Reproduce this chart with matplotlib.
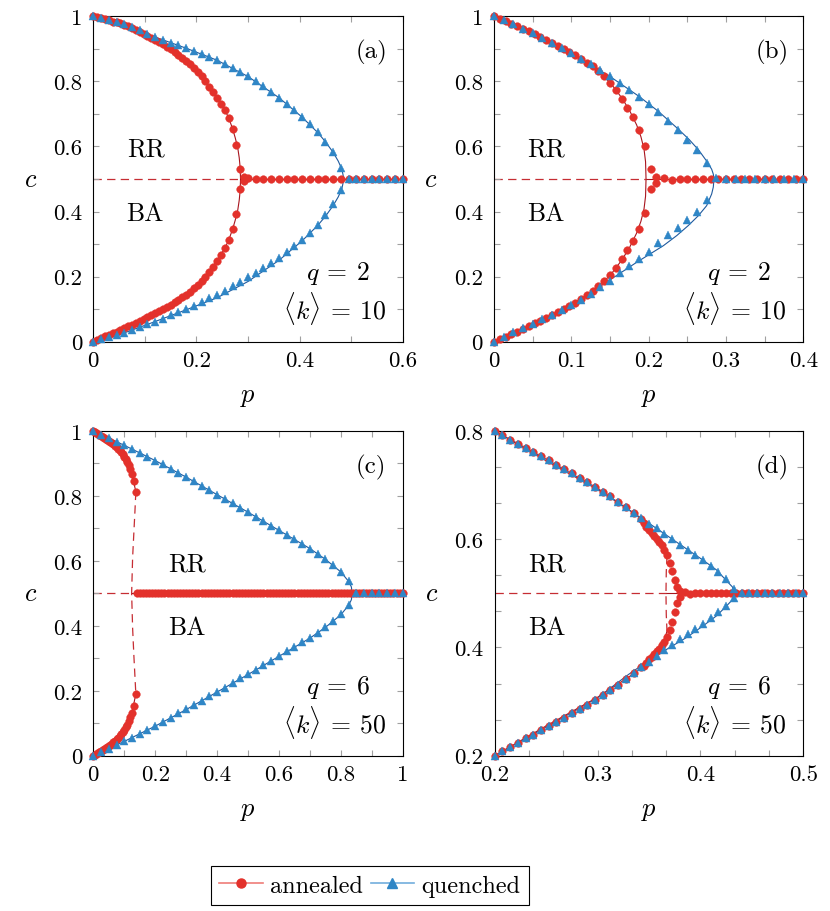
import matplotlib
matplotlib.use("Agg")
import matplotlib.pyplot as plt
from matplotlib.lines import Line2D
from matplotlib.ticker import MultipleLocator, FuncFormatter

plt.rcParams["font.family"] = ["cmr10", "DejaVu Serif"]
plt.rcParams["mathtext.fontset"] = "cm"
plt.rcParams["axes.formatter.use_mathtext"] = True
plt.rcParams["lines.scale_dashes"] = False

RED = "#E3312B"
BLUE = "#2F86C6"
RED_LINE = "#A8151E"
RED_DASH = "#C62D33"
BLUE_LINE = "#1F5A9E"
RED_LEG = "#EF7D78"
BLUE_LEG = "#72AEDD"

# ---------------- panel (a): q=2, <k>=10 ----------------
a_ann_p = [0, 0.0075, 0.015, 0.0225, 0.03, 0.0375, 0.045, 0.0525, 0.06, 0.0675,
           0.075, 0.0825, 0.09, 0.0975, 0.105, 0.1125, 0.12, 0.1275, 0.135, 0.1425,
           0.15, 0.1575, 0.165, 0.1725, 0.18, 0.1875, 0.195, 0.2025, 0.21, 0.2175,
           0.225, 0.2325, 0.24, 0.2475, 0.255, 0.2625, 0.27, 0.2775, 0.285, 0.2925]
a_ann_up = [1.000, 0.997, 0.994, 0.991, 0.988, 0.984, 0.981, 0.978, 0.974, 0.969,
            0.963, 0.957, 0.951, 0.945, 0.939, 0.933, 0.927, 0.921, 0.914, 0.907,
            0.899, 0.891, 0.882, 0.873, 0.863, 0.853, 0.842, 0.830, 0.817, 0.801,
            0.784, 0.766, 0.749, 0.732, 0.713, 0.688, 0.655, 0.605, 0.530, 0.506]
a_ann_lo = [0.000, 0.005, 0.010, 0.016, 0.021, 0.026, 0.031, 0.036, 0.041, 0.047,
            0.052, 0.058, 0.064, 0.070, 0.076, 0.082, 0.088, 0.094, 0.100, 0.107,
            0.114, 0.121, 0.129, 0.137, 0.145, 0.154, 0.164, 0.175, 0.187, 0.200,
            0.214, 0.230, 0.247, 0.266, 0.287, 0.312, 0.346, 0.392, 0.470, 0.494]
a_ann_mid_p = [0.3, 0.315, 0.33, 0.345, 0.36, 0.375, 0.39, 0.405, 0.42, 0.435, 0.45,
               0.465, 0.48, 0.495, 0.51, 0.525, 0.54, 0.555, 0.57, 0.585, 0.6]
a_ann_mid_c = [0.502, 0.500, 0.501, 0.500, 0.500, 0.500, 0.500, 0.500, 0.500, 0.500, 0.500,
               0.500, 0.500, 0.500, 0.500, 0.500, 0.500, 0.500, 0.500, 0.500, 0.500]

a_que_p = [0, 0.015, 0.03, 0.045, 0.06, 0.075, 0.09, 0.105, 0.12, 0.135, 0.15,
           0.165, 0.18, 0.195, 0.21, 0.225, 0.24, 0.255, 0.27, 0.285, 0.3, 0.315,
           0.33, 0.345, 0.36, 0.375, 0.39, 0.405, 0.42, 0.435, 0.45, 0.465, 0.48]
a_que_up = [1.000, 0.994, 0.988, 0.982, 0.976, 0.968, 0.958, 0.947, 0.936, 0.927, 0.919,
            0.911, 0.902, 0.893, 0.884, 0.875, 0.865, 0.854, 0.842, 0.829, 0.815, 0.800,
            0.785, 0.768, 0.750, 0.731, 0.711, 0.690, 0.668, 0.643, 0.615, 0.582, 0.535]
a_que_lo = [0.000, 0.007, 0.014, 0.021, 0.028, 0.036, 0.044, 0.053, 0.062, 0.071, 0.081,
            0.091, 0.101, 0.111, 0.122, 0.133, 0.145, 0.157, 0.170, 0.184, 0.198, 0.212,
            0.227, 0.242, 0.258, 0.275, 0.294, 0.313, 0.335, 0.360, 0.390, 0.423, 0.465]
a_que_mid_p = [0.495, 0.51, 0.525, 0.54, 0.555, 0.57, 0.585, 0.6]
a_que_mid_c = [0.500, 0.500, 0.500, 0.500, 0.500, 0.500, 0.500, 0.500]

a_th_ann_p = [0, 0.06, 0.12, 0.18, 0.21, 0.24, 0.255, 0.2625, 0.27, 0.275, 0.28, 0.283,
              0.2848, 0.2855, 0.2848, 0.283, 0.28, 0.275, 0.27, 0.2625, 0.255, 0.24,
              0.21, 0.18, 0.12, 0.06, 0]
a_th_ann_c = [1.0, 0.974, 0.927, 0.863, 0.817, 0.749, 0.713, 0.688, 0.655, 0.628, 0.597, 0.565,
              0.535, 0.5, 0.465, 0.435, 0.403, 0.372, 0.345, 0.312, 0.287, 0.249,
              0.187, 0.145, 0.088, 0.041, 0.0]
a_th_ann_sym_p = [0.2855, 0.6]
a_th_ann_sym_c = [0.5, 0.5]
a_th_ann_uns_p = [0, 0.2855]
a_th_ann_uns_c = [0.5, 0.5]
a_th_que_p = [0, 0.06, 0.12, 0.18, 0.24, 0.3, 0.36, 0.405, 0.435, 0.45, 0.465, 0.475, 0.482,
              0.486, 0.482, 0.475, 0.465, 0.45, 0.435, 0.405, 0.36, 0.3, 0.24, 0.18, 0.12,
              0.06, 0]
a_th_que_c = [1.0, 0.976, 0.936, 0.902, 0.865, 0.815, 0.75, 0.69, 0.643, 0.615, 0.582, 0.555, 0.53,
              0.5, 0.47, 0.445, 0.418, 0.385, 0.357, 0.31, 0.25, 0.185, 0.135, 0.098, 0.062,
              0.027, 0.0]
a_th_que_sym_p = [0.486, 0.6]
a_th_que_sym_c = [0.5, 0.5]

# ---------------- panel (b): q=2, <k>=10 ----------------
b_ann_p = [0, 0.0075, 0.015, 0.0225, 0.03, 0.0375, 0.045, 0.0525, 0.06, 0.0675,
           0.075, 0.0825, 0.09, 0.0975, 0.105, 0.1125, 0.12, 0.1275, 0.135, 0.1425,
           0.15, 0.1575, 0.165, 0.1725, 0.18, 0.1875, 0.195, 0.2025, 0.21]
b_ann_up = [1.000, 0.993, 0.985, 0.977, 0.970, 0.962, 0.954, 0.945, 0.937, 0.928,
            0.919, 0.909, 0.900, 0.890, 0.880, 0.869, 0.858, 0.847, 0.833, 0.815,
            0.795, 0.772, 0.745, 0.718, 0.690, 0.652, 0.600, 0.530, 0.505]
b_ann_lo = [0.000, 0.007, 0.015, 0.023, 0.031, 0.039, 0.047, 0.056, 0.064, 0.073,
            0.082, 0.091, 0.100, 0.110, 0.120, 0.131, 0.142, 0.155, 0.170, 0.187,
            0.206, 0.228, 0.255, 0.282, 0.310, 0.345, 0.395, 0.470, 0.487]
b_ann_mid_p = [0.22, 0.23, 0.24, 0.25, 0.26, 0.27, 0.28, 0.29, 0.3, 0.31,
               0.32, 0.33, 0.34, 0.35, 0.36, 0.37, 0.38, 0.39, 0.4]
b_ann_mid_c = [0.502, 0.498, 0.500, 0.501, 0.500, 0.499, 0.500, 0.500, 0.500, 0.500,
               0.500, 0.500, 0.500, 0.500, 0.500, 0.500, 0.500, 0.500, 0.500]

b_que_p = [0, 0.0125, 0.025, 0.0375, 0.05, 0.0625, 0.075, 0.0875, 0.1, 0.1125, 0.125,
           0.1375, 0.15, 0.1625, 0.175, 0.1875, 0.2, 0.2125, 0.225, 0.2375, 0.25, 0.2625, 0.275]
b_que_up = [1.000, 0.988, 0.975, 0.962, 0.948, 0.934, 0.919, 0.903, 0.887, 0.870, 0.853,
            0.835, 0.815, 0.795, 0.774, 0.752, 0.729, 0.705, 0.679, 0.651, 0.621, 0.590, 0.548]
b_que_lo = [0.000, 0.014, 0.029, 0.042, 0.055, 0.069, 0.083, 0.098, 0.113, 0.129, 0.146,
            0.167, 0.188, 0.210, 0.233, 0.255, 0.277, 0.302, 0.327, 0.350, 0.373, 0.400, 0.434]
b_que_mid_p = [0.2875, 0.3, 0.3125, 0.325, 0.3375, 0.35, 0.3625, 0.375, 0.3875, 0.4]
b_que_mid_c = [0.502, 0.500, 0.500, 0.500, 0.500, 0.500, 0.500, 0.500, 0.500, 0.500]

b_th_ann_p = [0, 0.03, 0.06, 0.09, 0.12, 0.15, 0.165, 0.175, 0.1845, 0.19, 0.194, 0.196,
              0.1966, 0.196, 0.194, 0.19, 0.1845, 0.175, 0.165, 0.15, 0.12, 0.09, 0.06, 0.03, 0]
b_th_ann_c = [1.0, 0.970, 0.937, 0.900, 0.858, 0.797, 0.750, 0.712, 0.666, 0.630, 0.592, 0.553,
              0.5, 0.447, 0.408, 0.370, 0.334, 0.288, 0.250, 0.203, 0.142, 0.100, 0.064, 0.031, 0.0]
b_th_ann_sym_p = [0.1966, 0.4]
b_th_ann_sym_c = [0.5, 0.5]
b_th_ann_uns_p = [0, 0.1966]
b_th_ann_uns_c = [0.5, 0.5]
b_th_que_p = [0, 0.05, 0.1, 0.15, 0.1875, 0.2125, 0.2375, 0.2525, 0.265, 0.275, 0.2815, 0.2836,
              0.2845, 0.2836, 0.2815, 0.275, 0.2642, 0.2513, 0.2363, 0.219, 0.1845, 0.15, 0.1,
              0.05, 0]
b_th_que_c = [1.0, 0.948, 0.887, 0.815, 0.754, 0.708, 0.655, 0.621, 0.588, 0.555, 0.530, 0.515,
              0.5, 0.475, 0.454, 0.418, 0.387, 0.357, 0.326, 0.295, 0.244, 0.19, 0.113,
              0.052, 0.0]
b_th_que_sym_p = [0.2845, 0.4]
b_th_que_sym_c = [0.5, 0.5]

# ---------------- panel (c): q=6, <k>=50 ----------------
c_ann_p = [0, 0.005, 0.01, 0.015, 0.02, 0.025, 0.03, 0.035, 0.04, 0.045, 0.05, 0.055,
           0.06, 0.065, 0.07, 0.075, 0.08, 0.085, 0.09, 0.095, 0.1, 0.105, 0.11, 0.115,
           0.12, 0.125, 0.13, 0.1375]
c_ann_up = [1.000, 0.997, 0.994, 0.991, 0.988, 0.985, 0.981, 0.978, 0.975, 0.972, 0.969, 0.966,
            0.963, 0.959, 0.955, 0.950, 0.945, 0.940, 0.934, 0.928, 0.921, 0.913, 0.904, 0.894,
            0.882, 0.867, 0.847, 0.813]
c_ann_lo = [0.000, 0.003, 0.006, 0.009, 0.012, 0.015, 0.019, 0.022, 0.025, 0.028, 0.031, 0.034,
            0.037, 0.041, 0.045, 0.050, 0.055, 0.060, 0.066, 0.072, 0.079, 0.087, 0.096, 0.106,
            0.118, 0.133, 0.153, 0.190]
c_ann_mid_p = [0.14, 0.15, 0.16, 0.17, 0.18, 0.19, 0.20, 0.21, 0.22, 0.23,
               0.24, 0.25, 0.26, 0.27, 0.28, 0.29, 0.30, 0.31, 0.32, 0.33,
               0.34, 0.35, 0.36, 0.37, 0.38, 0.39, 0.40, 0.41, 0.42, 0.43,
               0.44, 0.45, 0.46, 0.47, 0.48, 0.49, 0.50, 0.51, 0.52, 0.53,
               0.54, 0.55, 0.56, 0.57, 0.58, 0.59, 0.60, 0.61, 0.62, 0.63,
               0.64, 0.65, 0.66, 0.67, 0.68, 0.69, 0.70, 0.71, 0.72, 0.73,
               0.74, 0.75, 0.76, 0.77, 0.78, 0.79, 0.80, 0.81, 0.82, 0.83,
               0.84, 0.85, 0.86, 0.87, 0.88, 0.89, 0.90, 0.91, 0.92, 0.93,
               0.94, 0.95, 0.96, 0.97, 0.98, 0.99, 1.00]
c_ann_mid_c = [0.500, 0.500, 0.500, 0.500, 0.500, 0.500, 0.500, 0.500, 0.500, 0.500,
               0.500, 0.500, 0.500, 0.500, 0.500, 0.500, 0.500, 0.500, 0.500, 0.500,
               0.500, 0.500, 0.500, 0.500, 0.500, 0.500, 0.500, 0.500, 0.500, 0.500,
               0.500, 0.500, 0.500, 0.500, 0.500, 0.500, 0.500, 0.500, 0.500, 0.500,
               0.500, 0.500, 0.500, 0.500, 0.500, 0.500, 0.500, 0.500, 0.500, 0.500,
               0.500, 0.500, 0.500, 0.500, 0.500, 0.500, 0.500, 0.500, 0.500, 0.500,
               0.500, 0.500, 0.500, 0.500, 0.500, 0.500, 0.500, 0.500, 0.500, 0.500,
               0.500, 0.500, 0.500, 0.500, 0.500, 0.500, 0.500, 0.500, 0.500, 0.500,
               0.500, 0.500, 0.500, 0.500, 0.500, 0.500, 0.500]

c_que_p = [0, 0.025, 0.05, 0.075, 0.1, 0.125, 0.15, 0.175, 0.2, 0.225, 0.25, 0.275,
           0.3, 0.325, 0.35, 0.375, 0.4, 0.425, 0.45, 0.475, 0.5, 0.525, 0.55, 0.575,
           0.6, 0.625, 0.65, 0.675, 0.7, 0.725, 0.75, 0.775, 0.8, 0.825]
c_que_up = [1.000, 0.989, 0.978, 0.967, 0.956, 0.945, 0.933, 0.921, 0.909, 0.897, 0.884, 0.871,
            0.858, 0.845, 0.831, 0.818, 0.804, 0.791, 0.777, 0.763, 0.750, 0.736, 0.722, 0.708,
            0.694, 0.680, 0.666, 0.652, 0.638, 0.622, 0.605, 0.587, 0.566, 0.537]
c_que_lo = [0.000, 0.011, 0.022, 0.034, 0.045, 0.056, 0.068, 0.080, 0.092, 0.104, 0.117, 0.130,
            0.143, 0.156, 0.170, 0.183, 0.197, 0.210, 0.224, 0.238, 0.251, 0.265, 0.279, 0.293,
            0.307, 0.321, 0.335, 0.349, 0.363, 0.379, 0.396, 0.414, 0.435, 0.464]
c_que_mid_p = [0.85, 0.875, 0.9, 0.925, 0.95, 0.975, 1.0]
c_que_mid_c = [0.500, 0.500, 0.500, 0.500, 0.500, 0.500, 0.500]

c_th_ann_up_p = [0, 0.03, 0.065, 0.085, 0.1, 0.115, 0.125, 0.1375]
c_th_ann_up_c = [1.0, 0.981, 0.959, 0.94, 0.921, 0.894, 0.867, 0.813]
c_th_ann_lo_p = [0.1375, 0.125, 0.115, 0.1, 0.085, 0.065, 0.03, 0]
c_th_ann_lo_c = [0.19, 0.133, 0.106, 0.079, 0.06, 0.041, 0.019, 0.0]
c_th_ann_unsb_p = [0.1375, 0.1347, 0.1314, 0.1271, 0.1239, 0.1271, 0.1314, 0.1347, 0.1375]
c_th_ann_unsb_c = [0.813, 0.755, 0.693, 0.611, 0.5, 0.392, 0.303, 0.242, 0.19]
c_th_ann_sym_p = [0.1239, 1.0]
c_th_ann_sym_c = [0.5, 0.5]
c_th_ann_uns_p = [0, 0.1239]
c_th_ann_uns_c = [0.5, 0.5]
c_th_que_p = [0, 0.1, 0.2, 0.3, 0.4, 0.5, 0.6, 0.7, 0.75, 0.8, 0.825, 0.834, 0.837,
              0.834, 0.825, 0.8, 0.75, 0.7, 0.6, 0.5, 0.4, 0.3, 0.2, 0.1, 0]
c_th_que_c = [1.0, 0.956, 0.909, 0.858, 0.804, 0.75, 0.694, 0.638, 0.605, 0.566, 0.537, 0.52, 0.5,
              0.48, 0.463, 0.434, 0.395, 0.362, 0.306, 0.25, 0.196, 0.142, 0.091, 0.044, 0.0]
c_th_que_sym_p = [0.837, 1.0]
c_th_que_sym_c = [0.5, 0.5]

# ---------------- panel (d): q=6, <k>=50 (zoom) ----------------
d_ann_p = [0.2, 0.2075, 0.215, 0.2225, 0.23, 0.2375, 0.245, 0.2525, 0.26, 0.2675,
           0.275, 0.2825, 0.29, 0.2975, 0.305, 0.3125, 0.32, 0.3275, 0.335, 0.3425,
           0.345, 0.3475, 0.35, 0.3525, 0.355, 0.3575, 0.36, 0.3625, 0.365, 0.3675,
           0.37, 0.3725, 0.375, 0.3775, 0.38]
d_ann_up = [0.800, 0.792, 0.784, 0.776, 0.768, 0.761, 0.753, 0.746, 0.738, 0.730,
            0.722, 0.714, 0.706, 0.697, 0.688, 0.679, 0.669, 0.659, 0.649, 0.638,
            0.630, 0.623, 0.617, 0.612, 0.606, 0.600, 0.595, 0.589, 0.581, 0.570,
            0.556, 0.541, 0.525, 0.511, 0.504]
d_ann_lo = [0.200, 0.208, 0.216, 0.224, 0.232, 0.239, 0.247, 0.254, 0.262, 0.270,
            0.278, 0.286, 0.294, 0.303, 0.312, 0.321, 0.331, 0.341, 0.352, 0.363,
            0.366, 0.372, 0.378, 0.383, 0.388, 0.393, 0.398, 0.404, 0.411, 0.420,
            0.433, 0.447, 0.465, 0.483, 0.494]
d_ann_mid_p = [0.385, 0.39, 0.395, 0.4, 0.405, 0.41, 0.415, 0.42, 0.425, 0.43, 0.435, 0.44,
               0.445, 0.45, 0.455, 0.46, 0.465, 0.47, 0.475, 0.48, 0.485, 0.49, 0.495, 0.5]
d_ann_mid_c = [0.502, 0.499, 0.501, 0.500, 0.500, 0.500, 0.500, 0.500, 0.500, 0.500, 0.500, 0.500,
               0.500, 0.500, 0.500, 0.500, 0.500, 0.500, 0.500, 0.500, 0.500, 0.500, 0.500, 0.500]

d_que_p = [0.2, 0.2075, 0.215, 0.2225, 0.23, 0.2375, 0.245, 0.2525, 0.26, 0.2675,
           0.275, 0.2825, 0.29, 0.2975, 0.305, 0.3125, 0.32, 0.3275, 0.335, 0.3425,
           0.35, 0.3575, 0.365, 0.3725, 0.38, 0.3875, 0.395, 0.4025, 0.41, 0.4175,
           0.425, 0.4325]
d_que_up = [0.800, 0.792, 0.784, 0.776, 0.768, 0.761, 0.753, 0.746, 0.738, 0.730,
            0.722, 0.714, 0.706, 0.697, 0.688, 0.679, 0.669, 0.659, 0.649, 0.639,
            0.629, 0.620, 0.610, 0.600, 0.590, 0.580, 0.571, 0.561, 0.550, 0.539,
            0.526, 0.508]
d_que_lo = [0.200, 0.208, 0.216, 0.224, 0.232, 0.239, 0.247, 0.254, 0.262, 0.270,
            0.278, 0.286, 0.294, 0.303, 0.312, 0.321, 0.331, 0.341, 0.352, 0.363,
            0.374, 0.385, 0.395, 0.405, 0.415, 0.425, 0.434, 0.444, 0.454, 0.465,
            0.477, 0.492]
d_que_mid_p = [0.44, 0.4475, 0.455, 0.4625, 0.47, 0.4775, 0.485, 0.4925, 0.5]
d_que_mid_c = [0.500, 0.500, 0.500, 0.500, 0.500, 0.500, 0.500, 0.500, 0.500]

d_th_ann_up_p = [0.2, 0.25, 0.3, 0.33, 0.3425, 0.35, 0.36, 0.365, 0.3675]
d_th_ann_up_c = [0.8, 0.745, 0.692, 0.655, 0.638, 0.619, 0.598, 0.585, 0.570]
d_th_ann_lo_p = [0.3675, 0.365, 0.36, 0.35, 0.3425, 0.33, 0.3, 0.25, 0.2]
d_th_ann_lo_c = [0.43, 0.415, 0.402, 0.381, 0.362, 0.345, 0.308, 0.255, 0.2]
d_th_ann_unsb_p = [0.3675, 0.3668, 0.3665, 0.3668, 0.3675]
d_th_ann_unsb_c = [0.570, 0.54, 0.5, 0.46, 0.43]
d_th_ann_sym_p = [0.3665, 0.5]
d_th_ann_sym_c = [0.5, 0.5]
d_th_ann_uns_p = [0.2, 0.3665]
d_th_ann_uns_c = [0.5, 0.5]
d_th_que_p = [0.2, 0.25, 0.3, 0.33, 0.3542, 0.3704, 0.3866, 0.4028, 0.4158, 0.4255, 0.431,
              0.4336, 0.431, 0.4255, 0.4158, 0.4028, 0.3866, 0.3704, 0.3542, 0.33, 0.3,
              0.25, 0.2]
d_th_que_c = [0.8, 0.748, 0.694, 0.655, 0.624, 0.603, 0.582, 0.561, 0.543, 0.523, 0.512,
              0.5, 0.488, 0.477, 0.4587, 0.4402, 0.4186, 0.4002, 0.3817, 0.35, 0.307,
              0.253, 0.2]
d_th_que_sym_p = [0.4336, 0.5]
d_th_que_sym_c = [0.5, 0.5]

# ---------------- figure ----------------
W, H = 830, 912
fig = plt.figure(figsize=(W / 100, H / 100), dpi=100)


def box(l, r, t, b):
    return [l / W, 1 - b / H, (r - l) / W, (b - t) / H]


ax_a = fig.add_axes(box(93.3, 402.7, 17.3, 342.7))
ax_b = fig.add_axes(box(494.0, 803.3, 17.3, 342.7))
ax_c = fig.add_axes(box(93.3, 402.7, 432.0, 756.7))
ax_d = fig.add_axes(box(494.7, 803.3, 432.0, 756.7))

MS_C = 5.5
MS_T = 6.2


def solid(ax, p, c, color):
    ax.plot(p, c, color=color, lw=0.8, zorder=1)


def dashed(ax, p, c):
    ax.plot(p, c, color=RED_DASH, lw=0.9, ls=(0, (6.0, 3.8)), zorder=1)


def marks_ann(ax, p, c):
    ax.plot(p, c, ls="none", marker="o", ms=MS_C, mfc=RED, mec=RED, mew=0.3,
            zorder=3, clip_on=False)


def marks_que(ax, p, c):
    ax.plot(p, c, ls="none", marker="^", ms=MS_T, mfc=BLUE, mec=BLUE, mew=0.3,
            zorder=4, clip_on=False)


# panel a
solid(ax_a, a_th_ann_p, a_th_ann_c, RED_LINE)
solid(ax_a, a_th_ann_sym_p, a_th_ann_sym_c, RED_LINE)
dashed(ax_a, a_th_ann_uns_p, a_th_ann_uns_c)
solid(ax_a, a_th_que_p, a_th_que_c, BLUE_LINE)
solid(ax_a, a_th_que_sym_p, a_th_que_sym_c, BLUE_LINE)
marks_ann(ax_a, a_ann_p, a_ann_up)
marks_ann(ax_a, a_ann_p, a_ann_lo)
marks_ann(ax_a, a_ann_mid_p, a_ann_mid_c)
marks_que(ax_a, a_que_p, a_que_up)
marks_que(ax_a, a_que_p, a_que_lo)
marks_que(ax_a, a_que_mid_p, a_que_mid_c)

# panel b
solid(ax_b, b_th_ann_p, b_th_ann_c, RED_LINE)
solid(ax_b, b_th_ann_sym_p, b_th_ann_sym_c, RED_LINE)
dashed(ax_b, b_th_ann_uns_p, b_th_ann_uns_c)
solid(ax_b, b_th_que_p, b_th_que_c, BLUE_LINE)
solid(ax_b, b_th_que_sym_p, b_th_que_sym_c, BLUE_LINE)
marks_ann(ax_b, b_ann_p, b_ann_up)
marks_ann(ax_b, b_ann_p, b_ann_lo)
marks_ann(ax_b, b_ann_mid_p, b_ann_mid_c)
marks_que(ax_b, b_que_p, b_que_up)
marks_que(ax_b, b_que_p, b_que_lo)
marks_que(ax_b, b_que_mid_p, b_que_mid_c)

# panel c
solid(ax_c, c_th_ann_up_p, c_th_ann_up_c, RED_LINE)
solid(ax_c, c_th_ann_lo_p, c_th_ann_lo_c, RED_LINE)
dashed(ax_c, c_th_ann_unsb_p, c_th_ann_unsb_c)
solid(ax_c, c_th_ann_sym_p, c_th_ann_sym_c, RED_LINE)
dashed(ax_c, c_th_ann_uns_p, c_th_ann_uns_c)
solid(ax_c, c_th_que_p, c_th_que_c, BLUE_LINE)
solid(ax_c, c_th_que_sym_p, c_th_que_sym_c, BLUE_LINE)
marks_ann(ax_c, c_ann_p, c_ann_up)
marks_ann(ax_c, c_ann_p, c_ann_lo)
marks_ann(ax_c, c_ann_mid_p, c_ann_mid_c)
marks_que(ax_c, c_que_p, c_que_up)
marks_que(ax_c, c_que_p, c_que_lo)
marks_que(ax_c, c_que_mid_p, c_que_mid_c)

# panel d
solid(ax_d, d_th_ann_up_p, d_th_ann_up_c, RED_LINE)
solid(ax_d, d_th_ann_lo_p, d_th_ann_lo_c, RED_LINE)
dashed(ax_d, d_th_ann_unsb_p, d_th_ann_unsb_c)
solid(ax_d, d_th_ann_sym_p, d_th_ann_sym_c, RED_LINE)
dashed(ax_d, d_th_ann_uns_p, d_th_ann_uns_c)
solid(ax_d, d_th_que_p, d_th_que_c, BLUE_LINE)
solid(ax_d, d_th_que_sym_p, d_th_que_sym_c, BLUE_LINE)
marks_ann(ax_d, d_ann_p, d_ann_up)
marks_ann(ax_d, d_ann_p, d_ann_lo)
marks_ann(ax_d, d_ann_mid_p, d_ann_mid_c)
marks_que(ax_d, d_que_p, d_que_up)
marks_que(ax_d, d_que_p, d_que_lo)
marks_que(ax_d, d_que_mid_p, d_que_mid_c)

fmt = FuncFormatter(lambda v, pos: f"{v:g}")
settings = [
    (ax_a, (0, 0.6), 0.2, 0.1, (0, 1), 0.2, 0.1, "(a)", r"$q\:=\:2$", r"$\langle k\rangle\:=\:10$", 0.170),
    (ax_b, (0, 0.4), 0.1, 0.05, (0, 1), 0.2, 0.1, "(b)", r"$q\:=\:2$", r"$\langle k\rangle\:=\:10$", 0.169),
    (ax_c, (0, 1), 0.2, 0.1, (0, 1), 0.2, 0.1, "(c)", r"$q\:=\:6$", r"$\langle k\rangle\:=\:50$", 0.304),
    (ax_d, (0.2, 0.5), 0.1, 0.1 / 3, (0.2, 0.8), 0.2, 0.2 / 3, "(d)", r"$q\:=\:6$", r"$\langle k\rangle\:=\:50$", 0.170),
]
for ax, xl, xmaj, xmin, yl, ymaj, ymin, tag, qtxt, ktxt, rrx in settings:
    ax.set_xlim(*xl)
    ax.set_ylim(*yl)
    ax.xaxis.set_major_locator(MultipleLocator(xmaj))
    ax.xaxis.set_minor_locator(MultipleLocator(xmin))
    ax.yaxis.set_major_locator(MultipleLocator(ymaj))
    ax.yaxis.set_minor_locator(MultipleLocator(ymin))
    ax.xaxis.set_major_formatter(fmt)
    ax.yaxis.set_major_formatter(fmt)
    ax.tick_params(which="both", direction="in", top=True, right=True,
                   color="#a0a0a0", length=4.5, width=0.8, labelsize=16.5)
    ax.tick_params(axis="y", pad=8)
    ax.tick_params(axis="x", pad=6)
    for s in ax.spines.values():
        s.set_linewidth(0.8)
        s.set_color("black")
    ax.set_xlabel("$p$", fontsize=19)
    ax.set_ylabel("$c$", fontsize=19, rotation=0)
    ax.xaxis.set_label_coords(0.5, -0.168)
    ax.xaxis.label.set_verticalalignment("center")
    ax.yaxis.set_label_coords(-0.204, 0.5)
    ax.yaxis.label.set_verticalalignment("center")
    ax.yaxis.label.set_horizontalalignment("center")
    ax.text(0.898, 0.892, tag, transform=ax.transAxes, ha="center", va="center", fontsize=18)
    ax.text(rrx, 0.593, "RR", transform=ax.transAxes, ha="center", va="center", fontsize=18.5)
    ax.text(rrx - 0.002, 0.396, "BA", transform=ax.transAxes, ha="center", va="center", fontsize=18.5)
    ax.text(0.791, 0.214, qtxt, transform=ax.transAxes, ha="center", va="center", fontsize=18.5)
    ax.text(0.779, 0.104, ktxt, transform=ax.transAxes, ha="center", va="center", fontsize=18.5)

h_ann = Line2D([], [], color=RED_LEG, lw=1.2, marker="o", ms=6.5, mfc=RED, mec=RED)
h_que = Line2D([], [], color=BLUE_LEG, lw=1.2, marker="^", ms=7, mfc=BLUE, mec=BLUE)
leg = fig.legend([h_ann, h_que], ["annealed", "quenched"], loc="center",
                 bbox_to_anchor=(370 / W, 1 - 886.5 / H), ncol=2, fontsize=17.5,
                 frameon=True, fancybox=False, edgecolor="black", framealpha=1,
                 handlelength=1.8, handletextpad=0.3, columnspacing=0.3,
                 borderpad=0.35, borderaxespad=0)
leg.get_frame().set_linewidth(0.8)

fig.savefig("out.png", dpi=100)
